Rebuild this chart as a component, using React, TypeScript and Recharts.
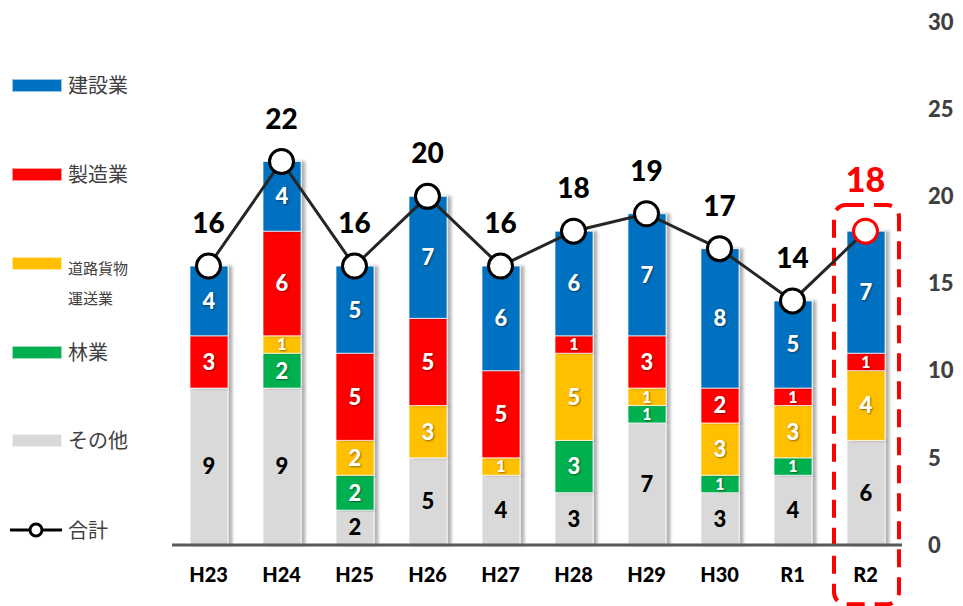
import React from "react";
import { ComposedChart, Bar, Line, XAxis, YAxis, LabelList, ReferenceArea } from "recharts";

// 年度
const categories = ["H23", "H24", "H25", "H26", "H27", "H28", "H29", "H30", "R1", "R2"];
// 業種別（人）
const other = [9, 9, 2, 5, 4, 3, 7, 3, 4, 6];
const forestry = [0, 2, 2, 0, 0, 3, 1, 1, 1, 0];
const road = [0, 1, 2, 3, 1, 5, 1, 3, 3, 4];
const manufacturing = [3, 6, 5, 5, 5, 1, 3, 2, 1, 1];
const construction = [4, 4, 5, 7, 6, 6, 7, 8, 5, 7];
const totals = [16, 22, 16, 20, 16, 18, 19, 17, 14, 18];
const yTicks = [0, 5, 10, 15, 20, 25, 30];
const highlight = "R2";

const data = categories.map((name, i) => ({
  name,
  other: other[i],
  forestry: forestry[i],
  road: road[i],
  manufacturing: manufacturing[i],
  construction: construction[i],
  total: totals[i],
}));

const series = [
  { key: "other", label: "その他", color: "#d9d9d9", text: "#000" },
  { key: "forestry", label: "林業", color: "#00b050", text: "#fff" },
  { key: "road", label: "道路貨物運送業", color: "#ffc000", text: "#fff" },
  { key: "manufacturing", label: "製造業", color: "#ff0000", text: "#fff" },
  { key: "construction", label: "建設業", color: "#0070c0", text: "#fff" },
];

const numFont = "Lato, 'Open Sans', sans-serif";
const jpFont = "'Noto Sans CJK JP', sans-serif";

const segLabel = (textColor: string) => (props: any) => {
  const { x, y, width, height, value } = props;
  if (!value) return null;
  const small = height < 20;
  return (
    <text
      x={x + width / 2}
      y={y + height / 2}
      dy="0.36em"
      textAnchor="middle"
      fill={textColor}
      fontSize={small ? 16 : 22}
      fontWeight={900}
      fontFamily={numFont}
      style={textColor === "#fff" ? { textShadow: "1px 1px 2px rgba(0,0,0,0.45)" } : undefined}
    >
      {value}
    </text>
  );
};

const totalLabel = (props: any) => {
  const { x, y, value, index } = props;
  const hl = categories[index] === highlight;
  return (
    <text
      x={x}
      y={y - (hl ? 51 : 43)}
      dy="0.36em"
      textAnchor="middle"
      fill={hl ? "#ff0000" : "#000"}
      fontSize={hl ? 34 : 28}
      fontWeight={900}
      fontFamily={numFont}
    >
      {value}
    </text>
  );
};

const totalDot = (props: any) => {
  const { cx, cy, index } = props;
  const hl = categories[index] === highlight;
  return <circle key={index} cx={cx} cy={cy} r={12} fill="#fff" stroke={hl ? "#ff0000" : "#000"} strokeWidth={3} />;
};

const HighlightBox = (props: any) => {
  const { x, y, width, height } = props;
  return (
    <rect
      x={x + 5}
      y={y}
      width={width - 8}
      height={height}
      rx={12}
      fill="none"
      stroke="#ff0000"
      strokeWidth={4}
      strokeDasharray="18 10"
    />
  );
};

const legendItems = [
  { label: "建設業", color: "#0070c0", top: 86 },
  { label: "製造業", color: "#ff0000", top: 175 },
  { label: "道路貨物", sub: "運送業", color: "#ffc000", top: 264 },
  { label: "林業", color: "#00b050", top: 353 },
  { label: "その他", color: "#d9d9d9", top: 441 },
];

export default function App() {
  return (
    <div style={{ position: "absolute", left: 0, top: 0, width: 963, height: 606, background: "#fff" }}>
      <ComposedChart width={963} height={606} data={data} margin={{ top: 22, right: 0, bottom: 0, left: 172 }}>
        <defs>
          <filter id="barShadow" x="-20%" y="-5%" width="150%" height="110%">
            <feDropShadow dx={4} dy={0} stdDeviation={1.5} floodColor="#000" floodOpacity={0.3} />
          </filter>
        </defs>
        <XAxis
          dataKey="name"
          height={61}
          tickLine={false}
          axisLine={{ stroke: "#595959", strokeWidth: 3 }}
          tickMargin={17}
          tick={{ fill: "#000", fontSize: 20, fontWeight: 900, fontFamily: numFont }}
          interval={0}
        />
        <YAxis
          orientation="right"
          width={61}
          domain={[0, 30]}
          ticks={yTicks}
          axisLine={false}
          tickLine={false}
          tickMargin={20}
          tick={{ fill: "#404040", fontSize: 22, fontWeight: 900, fontFamily: numFont, textAnchor: "start" }}
        />
        {series.map((s) => (
          <Bar
            key={s.key}
            dataKey={s.key}
            stackId="a"
            fill={s.color}
            stroke="rgba(255,255,255,0.7)"
            strokeWidth={1}
            barSize={38}
            filter="url(#barShadow)"
            isAnimationActive={false}
          >
            <LabelList dataKey={s.key} content={segLabel(s.text)} />
          </Bar>
        ))}
        <Line
          dataKey="total"
          type="linear"
          stroke="#262626"
          strokeWidth={3}
          dot={totalDot}
          activeDot={false}
          isAnimationActive={false}
        >
          <LabelList dataKey="total" content={totalLabel} />
        </Line>
        <ReferenceArea
          x1={highlight}
          x2={highlight}
          y1={-3.4}
          y2={19.5}
          ifOverflow="visible"
          shape={HighlightBox}
        />
      </ComposedChart>

      {legendItems.map((it) => (
        <div key={it.label} style={{ position: "absolute", left: 12, top: it.top - 7 }}>
          <div style={{ position: "absolute", left: 0, top: 0, width: 50, height: 13, background: it.color, border: "1px solid rgba(255,255,255,0.6)", boxSizing: "border-box" }} />
          <div
            style={{
              position: "absolute",
              left: 56,
              top: it.sub ? -4 : -8,
              whiteSpace: "nowrap",
              fontFamily: jpFont,
              fontSize: it.sub ? 15 : 20,
              color: "#404040",
              lineHeight: it.sub ? "30px" : "28px",
            }}
          >
            {it.label}
            {it.sub && <br />}
            {it.sub}
          </div>
        </div>
      ))}
      <div style={{ position: "absolute", left: 10, top: 516 }}>
        <svg width={54} height={28} style={{ position: "absolute", left: 0, top: 0 }}>
          <line x1={0} y1={14} x2={52} y2={14} stroke="#000" strokeWidth={3} />
          <circle cx={26} cy={14} r={6} fill="#fff" stroke="#000" strokeWidth={3} />
        </svg>
        <div style={{ position: "absolute", left: 58, top: 0, fontFamily: jpFont, fontSize: 20, color: "#404040", lineHeight: "28px", whiteSpace: "nowrap" }}>
          合計
        </div>
      </div>
    </div>
  );
}
